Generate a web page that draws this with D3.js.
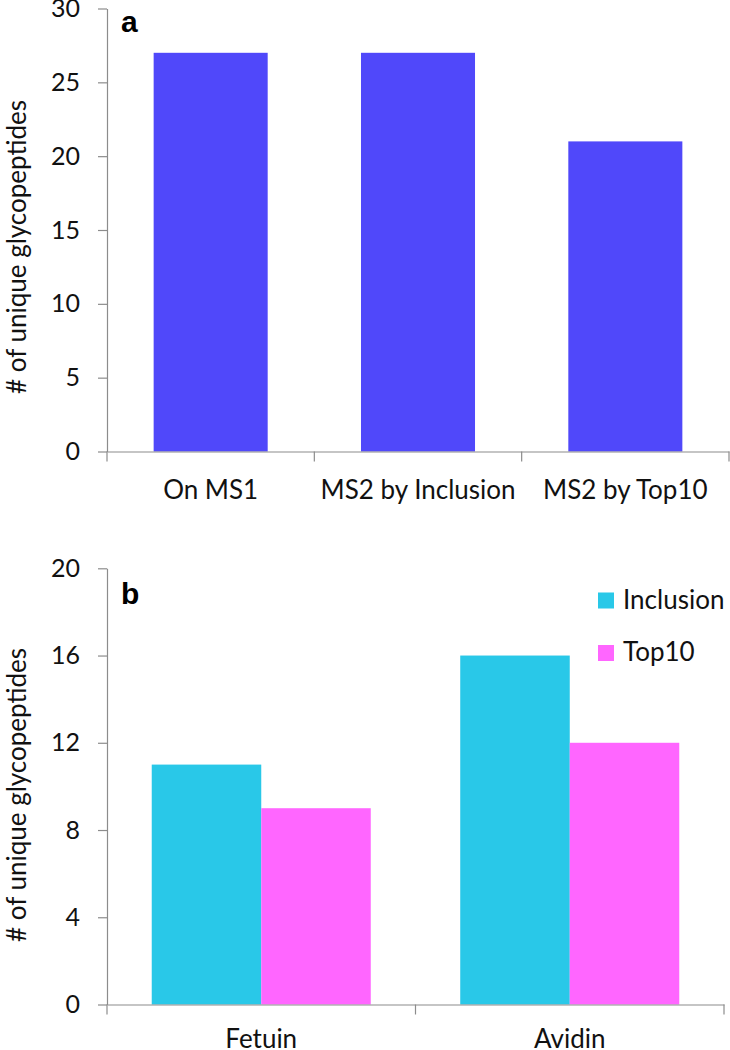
<!DOCTYPE html>
<html><head><meta charset="utf-8">
<script src="https://cdn.jsdelivr.net/npm/d3@7"></script>
<style>body{margin:0;background:#fff}svg{display:block}text{font-family:Lato,"Open Sans",sans-serif}</style>
</head><body>
<svg id="c" width="730" height="1050"></svg>
<script>
const catsA = ["On MS1", "MS2 by Inclusion", "MS2 by Top10"];
const valsA = [27, 27, 21];
const ticksA = [0, 5, 10, 15, 20, 25, 30];

const catsB = ["Fetuin", "Avidin"];
const seriesB = ["Inclusion", "Top10"];
const inclusionB = [11, 16];
const top10B = [9, 12];
const ticksB = [0, 4, 8, 12, 16, 20];

const svg = d3.select("#c");
const axisColor = "#8c8c8c";

function styleAxis(g, size){
  g.selectAll("path,line").attr("stroke", axisColor).attr("stroke-width", 1.2);
  g.selectAll("text").attr("fill", "#111").style("font-size", size + "px").style("font-family", "Lato");
}

// Panel a
{
  const x = d3.scaleBand().domain(catsA).range([107, 729]).paddingInner(0.45).paddingOuter(0.225);
  const xAx = d3.scaleBand().domain(catsA).range([107, 729]);
  const y = d3.scaleLinear().domain([0, 30]).range([451.5, 8.5]);
  svg.append("g").selectAll("rect").data(valsA).join("rect")
    .attr("x", (d, i) => x(catsA[i])).attr("width", x.bandwidth())
    .attr("y", d => y(d)).attr("height", d => y(0) - y(d)).attr("fill", "#5048FA");
  const gy = svg.append("g").attr("transform", "translate(107,0)")
    .call(d3.axisLeft(y).tickValues(ticksA).tickSize(9).tickSizeOuter(0).tickPadding(18));
  styleAxis(gy, 25);
  const gx = svg.append("g").attr("transform", `translate(0,${y(0)})`)
    .call(d3.axisBottom(xAx).tickSize(0).tickSizeOuter(0));
  styleAxis(gx, 26);
  gx.selectAll("text").attr("y", 47).attr("dy", 0);
  const bounds = [107, ...catsA.map(c => xAx(c) + xAx.bandwidth())];
  svg.append("g").selectAll("line").data(bounds).join("line")
    .attr("x1", d => d).attr("x2", d => d).attr("y1", y(0)).attr("y2", y(0) + 10)
    .attr("stroke", axisColor).attr("stroke-width", 1.2);
  svg.append("text").attr("x", 121).attr("y", 32).style("font-family", "Liberation Sans, Arial, sans-serif")
    .style("font-weight", "bold").style("font-size", "30px").text("a");
  svg.append("text").attr("transform", `translate(26,247) rotate(-90)`)
    .attr("text-anchor", "middle").style("font-size", "26px").attr("fill", "#111").text("# of unique glycopeptides");
}

// Panel b
{
  const x0 = d3.scaleBand().domain(catsB).range([107, 724]).paddingInner(0.29).paddingOuter(0.145);
  const xAx = d3.scaleBand().domain(catsB).range([107, 724]);
  const x1 = d3.scaleBand().domain(seriesB).range([0, x0.bandwidth()]);
  const y = d3.scaleLinear().domain([0, 20]).range([1004.5, 568.3]);
  const color = d3.scaleOrdinal().domain(seriesB).range(["#29C8E8", "#FF66FF"]);
  const data = catsB.map((c, i) => ({cat: c, vals: [{s: "Inclusion", v: inclusionB[i]}, {s: "Top10", v: top10B[i]}]}));
  svg.append("g").selectAll("g").data(data).join("g")
    .attr("transform", d => `translate(${x0(d.cat)},0)`)
    .selectAll("rect").data(d => d.vals).join("rect")
    .attr("x", d => x1(d.s)).attr("width", x1.bandwidth())
    .attr("y", d => y(d.v)).attr("height", d => y(0) - y(d.v)).attr("fill", d => color(d.s));
  const gy = svg.append("g").attr("transform", "translate(107,0)")
    .call(d3.axisLeft(y).tickValues(ticksB).tickSize(9).tickSizeOuter(0).tickPadding(18));
  styleAxis(gy, 25);
  const gx = svg.append("g").attr("transform", `translate(0,${y(0)})`)
    .call(d3.axisBottom(xAx).tickSize(0).tickSizeOuter(0));
  styleAxis(gx, 26);
  gx.selectAll("text").attr("y", 43).attr("dy", 0);
  const bounds = [107, ...catsB.map(c => xAx(c) + xAx.bandwidth())];
  svg.append("g").selectAll("line").data(bounds).join("line")
    .attr("x1", d => d).attr("x2", d => d).attr("y1", y(0)).attr("y2", y(0) + 10)
    .attr("stroke", axisColor).attr("stroke-width", 1.2);
  svg.append("text").attr("x", 121).attr("y", 604).style("font-family", "Liberation Sans, Arial, sans-serif")
    .style("font-weight", "bold").style("font-size", "30px").text("b");
  svg.append("text").attr("transform", `translate(26,795) rotate(-90)`)
    .attr("text-anchor", "middle").style("font-size", "26px").attr("fill", "#111").text("# of unique glycopeptides");
  const leg = svg.append("g").selectAll("g").data(seriesB).join("g")
    .attr("transform", (d, i) => `translate(598,${592.5 + i * 52.5})`);
  leg.append("rect").attr("width", 16).attr("height", 16).attr("fill", d => color(d));
  leg.append("text").attr("x", 25).attr("y", 16).style("font-size", "26px").attr("fill", "#111").text(d => d);
}
</script>
</body></html>
